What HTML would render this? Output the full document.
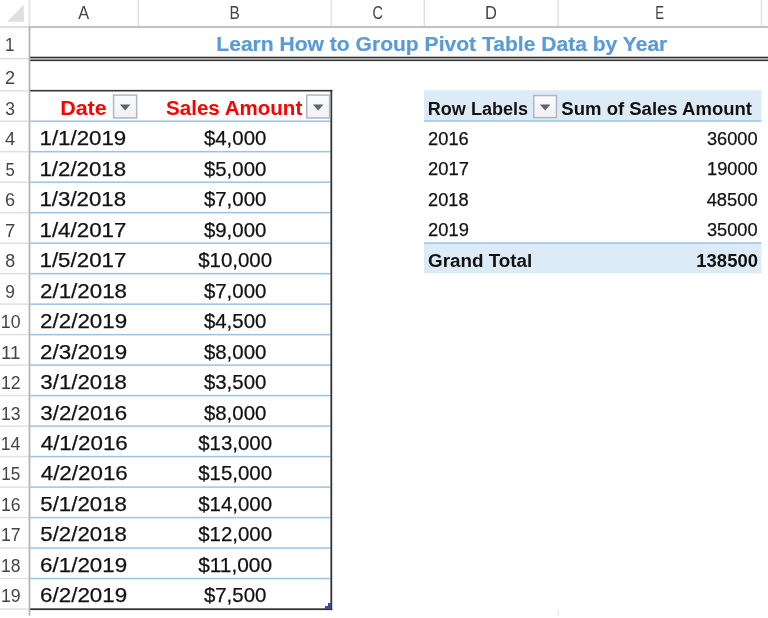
<!DOCTYPE html>
<html><head><meta charset="utf-8"><title>Group Pivot Table Data by Year</title>
<style>
html,body{margin:0;padding:0;background:#fff;overflow:hidden}
svg{display:block;filter:blur(0.4px)}
text{font-family:"Liberation Sans",Arial,sans-serif;white-space:pre}

</style></head><body>
<svg width="768" height="618" viewBox="0 0 768 618">
<defs><linearGradient id="ddg" x1="0" y1="0" x2="0" y2="1"><stop offset="0" stop-color="#fbfcfe"/><stop offset="1" stop-color="#eef1f6"/></linearGradient></defs>
<rect width="768" height="618" fill="#ffffff"/>
<polygon points="7.2,21.7 23.8,4.5 23.8,21.7" fill="#dfdfdf"/>
<rect x="137.55" y="0.00" width="1.50" height="26.00" fill="#e0e0e0"/>
<rect x="330.65" y="0.00" width="1.50" height="26.00" fill="#e0e0e0"/>
<rect x="423.55" y="0.00" width="1.50" height="26.00" fill="#e0e0e0"/>
<rect x="557.35" y="0.00" width="1.50" height="26.00" fill="#e0e0e0"/>
<rect x="760.75" y="0.00" width="1.50" height="26.00" fill="#e0e0e0"/>
<rect x="28.60" y="0.00" width="1.80" height="26.20" fill="#e0e0e0"/>
<rect x="0.00" y="26.10" width="28.60" height="1.80" fill="#dadada"/>
<rect x="28.60" y="26.10" width="739.40" height="1.80" fill="#bcbcbc"/>
<rect x="0.00" y="57.85" width="28.60" height="1.50" fill="#e0e0e0"/>
<rect x="0.00" y="90.15" width="28.60" height="1.50" fill="#e0e0e0"/>
<rect x="0.00" y="120.45" width="28.60" height="1.50" fill="#e0e0e0"/>
<rect x="0.00" y="150.94" width="28.60" height="1.50" fill="#e0e0e0"/>
<rect x="0.00" y="181.43" width="28.60" height="1.50" fill="#e0e0e0"/>
<rect x="0.00" y="211.92" width="28.60" height="1.50" fill="#e0e0e0"/>
<rect x="0.00" y="242.41" width="28.60" height="1.50" fill="#e0e0e0"/>
<rect x="0.00" y="272.90" width="28.60" height="1.50" fill="#e0e0e0"/>
<rect x="0.00" y="303.39" width="28.60" height="1.50" fill="#e0e0e0"/>
<rect x="0.00" y="333.88" width="28.60" height="1.50" fill="#e0e0e0"/>
<rect x="0.00" y="364.37" width="28.60" height="1.50" fill="#e0e0e0"/>
<rect x="0.00" y="394.86" width="28.60" height="1.50" fill="#e0e0e0"/>
<rect x="0.00" y="425.35" width="28.60" height="1.50" fill="#e0e0e0"/>
<rect x="0.00" y="455.84" width="28.60" height="1.50" fill="#e0e0e0"/>
<rect x="0.00" y="486.33" width="28.60" height="1.50" fill="#e0e0e0"/>
<rect x="0.00" y="516.82" width="28.60" height="1.50" fill="#e0e0e0"/>
<rect x="0.00" y="547.31" width="28.60" height="1.50" fill="#e0e0e0"/>
<rect x="0.00" y="577.80" width="28.60" height="1.50" fill="#e0e0e0"/>
<rect x="0.00" y="608.29" width="28.60" height="1.50" fill="#e0e0e0"/>
<rect x="28.60" y="27.00" width="1.80" height="588.70" fill="#b4b4b4"/>
<text x="78.34" y="18.60" font-size="18.50" fill="#444444" textLength="10.92" lengthAdjust="spacingAndGlyphs">A</text>
<text x="229.50" y="18.60" font-size="18.50" fill="#444444" textLength="10.25" lengthAdjust="spacingAndGlyphs">B</text>
<text x="372.55" y="18.60" font-size="18.50" fill="#444444" textLength="10.42" lengthAdjust="spacingAndGlyphs">C</text>
<text x="484.96" y="18.60" font-size="18.50" fill="#444444" textLength="11.91" lengthAdjust="spacingAndGlyphs">D</text>
<text x="655.15" y="18.60" font-size="18.50" fill="#444444" textLength="8.78" lengthAdjust="spacingAndGlyphs">E</text>
<text x="5.12" y="50.80" font-size="18.90" fill="#444444" textLength="9.49" lengthAdjust="spacingAndGlyphs">1</text>
<text x="5.08" y="84.30" font-size="18.90" fill="#444444" textLength="10.04" lengthAdjust="spacingAndGlyphs">2</text>
<text x="5.30" y="114.60" font-size="18.90" fill="#444444" textLength="9.71" lengthAdjust="spacingAndGlyphs">3</text>
<text x="5.04" y="145.09" font-size="18.90" fill="#444444" textLength="10.24" lengthAdjust="spacingAndGlyphs">4</text>
<text x="5.49" y="175.58" font-size="18.90" fill="#444444" textLength="9.25" lengthAdjust="spacingAndGlyphs">5</text>
<text x="4.99" y="206.07" font-size="18.90" fill="#444444" textLength="10.09" lengthAdjust="spacingAndGlyphs">6</text>
<text x="4.97" y="236.56" font-size="18.90" fill="#444444" textLength="10.23" lengthAdjust="spacingAndGlyphs">7</text>
<text x="5.14" y="267.05" font-size="18.90" fill="#444444" textLength="9.91" lengthAdjust="spacingAndGlyphs">8</text>
<text x="5.28" y="297.54" font-size="18.90" fill="#444444" textLength="9.64" lengthAdjust="spacingAndGlyphs">9</text>
<text x="0.87" y="328.03" font-size="18.90" fill="#444444" textLength="19.71" lengthAdjust="spacingAndGlyphs">10</text>
<text x="1.07" y="358.52" font-size="18.90" fill="#444444" textLength="19.48" lengthAdjust="spacingAndGlyphs">11</text>
<text x="1.04" y="389.01" font-size="18.90" fill="#444444" textLength="19.57" lengthAdjust="spacingAndGlyphs">12</text>
<text x="1.00" y="419.50" font-size="18.90" fill="#444444" textLength="19.54" lengthAdjust="spacingAndGlyphs">13</text>
<text x="0.78" y="449.99" font-size="18.90" fill="#444444" textLength="19.72" lengthAdjust="spacingAndGlyphs">14</text>
<text x="1.24" y="480.48" font-size="18.90" fill="#444444" textLength="19.04" lengthAdjust="spacingAndGlyphs">15</text>
<text x="0.96" y="510.97" font-size="18.90" fill="#444444" textLength="19.61" lengthAdjust="spacingAndGlyphs">16</text>
<text x="0.92" y="541.46" font-size="18.90" fill="#444444" textLength="19.79" lengthAdjust="spacingAndGlyphs">17</text>
<text x="1.02" y="571.95" font-size="18.90" fill="#444444" textLength="19.48" lengthAdjust="spacingAndGlyphs">18</text>
<text x="0.95" y="602.44" font-size="18.90" fill="#444444" textLength="19.69" lengthAdjust="spacingAndGlyphs">19</text>
<rect x="30.20" y="56.70" width="738.00" height="1.40" fill="#333333"/>
<rect x="30.20" y="58.10" width="738.00" height="1.60" fill="#aaaaaa"/>
<rect x="30.20" y="59.70" width="738.00" height="1.40" fill="#333333"/>
<text x="216.30" y="50.80" font-size="21.00" font-weight="bold" stroke="#5b9bd5" stroke-width="0.2" fill="#5b9bd5" textLength="451.02" lengthAdjust="spacingAndGlyphs">Learn How to Group Pivot Table Data by Year</text>
<rect x="30.20" y="120.45" width="300.20" height="1.50" fill="#9bc2e6"/>
<rect x="30.20" y="150.94" width="300.20" height="1.50" fill="#9bc2e6"/>
<rect x="30.20" y="181.43" width="300.20" height="1.50" fill="#9bc2e6"/>
<rect x="30.20" y="211.92" width="300.20" height="1.50" fill="#9bc2e6"/>
<rect x="30.20" y="242.41" width="300.20" height="1.50" fill="#9bc2e6"/>
<rect x="30.20" y="272.90" width="300.20" height="1.50" fill="#9bc2e6"/>
<rect x="30.20" y="303.39" width="300.20" height="1.50" fill="#9bc2e6"/>
<rect x="30.20" y="333.88" width="300.20" height="1.50" fill="#9bc2e6"/>
<rect x="30.20" y="364.37" width="300.20" height="1.50" fill="#9bc2e6"/>
<rect x="30.20" y="394.86" width="300.20" height="1.50" fill="#9bc2e6"/>
<rect x="30.20" y="425.35" width="300.20" height="1.50" fill="#9bc2e6"/>
<rect x="30.20" y="455.84" width="300.20" height="1.50" fill="#9bc2e6"/>
<rect x="30.20" y="486.33" width="300.20" height="1.50" fill="#9bc2e6"/>
<rect x="30.20" y="516.82" width="300.20" height="1.50" fill="#9bc2e6"/>
<rect x="30.20" y="547.31" width="300.20" height="1.50" fill="#9bc2e6"/>
<rect x="30.20" y="577.80" width="300.20" height="1.50" fill="#9bc2e6"/>
<rect x="30.20" y="89.90" width="302.20" height="1.60" fill="#333333"/>
<rect x="330.40" y="89.90" width="1.80" height="520.20" fill="#333333"/>
<rect x="30.20" y="608.30" width="302.00" height="1.80" fill="#333333"/>
<path d="M325,609 L325,606 L328,606 L328,603 L331,603 L331,609 Z" fill="#3b4b9b"/>
<text x="60.16" y="114.50" font-size="20.60" font-weight="bold" fill="#ff0000" textLength="46.57" lengthAdjust="spacingAndGlyphs">Date</text>
<rect x="113.55" y="95.05" width="23.10" height="22.90" fill="url(#ddg)" stroke="#b2b6bc" stroke-width="1.5"/>
<polygon points="119.85,104.40 130.35,104.40 125.10,110.40" fill="#636363"/>
<text x="166.11" y="114.50" font-size="20.60" font-weight="bold" fill="#ff0000" textLength="136.14" lengthAdjust="spacingAndGlyphs">Sales Amount</text>
<rect x="306.75" y="95.05" width="22.90" height="22.90" fill="url(#ddg)" stroke="#b2b6bc" stroke-width="1.5"/>
<polygon points="312.95,104.40 323.45,104.40 318.20,110.40" fill="#636363"/>
<text x="39.50" y="145.09" font-size="21.00" stroke="#111111" stroke-width="0.25" fill="#111111" textLength="86.77" lengthAdjust="spacingAndGlyphs">1/1/2019</text>
<text x="203.90" y="145.09" font-size="21.00" stroke="#111111" stroke-width="0.25" fill="#111111" textLength="62.47" lengthAdjust="spacingAndGlyphs">$4,000</text>
<text x="39.51" y="175.58" font-size="21.00" stroke="#111111" stroke-width="0.25" fill="#111111" textLength="86.54" lengthAdjust="spacingAndGlyphs">1/2/2018</text>
<text x="203.90" y="175.58" font-size="21.00" stroke="#111111" stroke-width="0.25" fill="#111111" textLength="62.47" lengthAdjust="spacingAndGlyphs">$5,000</text>
<text x="39.51" y="206.07" font-size="21.00" stroke="#111111" stroke-width="0.25" fill="#111111" textLength="86.54" lengthAdjust="spacingAndGlyphs">1/3/2018</text>
<text x="203.90" y="206.07" font-size="21.00" stroke="#111111" stroke-width="0.25" fill="#111111" textLength="62.47" lengthAdjust="spacingAndGlyphs">$7,000</text>
<text x="39.50" y="236.56" font-size="21.00" stroke="#111111" stroke-width="0.25" fill="#111111" textLength="86.88" lengthAdjust="spacingAndGlyphs">1/4/2017</text>
<text x="203.90" y="236.56" font-size="21.00" stroke="#111111" stroke-width="0.25" fill="#111111" textLength="62.47" lengthAdjust="spacingAndGlyphs">$9,000</text>
<text x="39.50" y="267.05" font-size="21.00" stroke="#111111" stroke-width="0.25" fill="#111111" textLength="86.88" lengthAdjust="spacingAndGlyphs">1/5/2017</text>
<text x="198.14" y="267.05" font-size="21.00" stroke="#111111" stroke-width="0.25" fill="#111111" textLength="74.00" lengthAdjust="spacingAndGlyphs">$10,000</text>
<text x="40.08" y="297.54" font-size="21.00" stroke="#111111" stroke-width="0.25" fill="#111111" textLength="86.92" lengthAdjust="spacingAndGlyphs">2/1/2018</text>
<text x="203.90" y="297.54" font-size="21.00" stroke="#111111" stroke-width="0.25" fill="#111111" textLength="62.47" lengthAdjust="spacingAndGlyphs">$7,000</text>
<text x="40.07" y="328.03" font-size="21.00" stroke="#111111" stroke-width="0.25" fill="#111111" textLength="87.14" lengthAdjust="spacingAndGlyphs">2/2/2019</text>
<text x="203.90" y="328.03" font-size="21.00" stroke="#111111" stroke-width="0.25" fill="#111111" textLength="62.47" lengthAdjust="spacingAndGlyphs">$4,500</text>
<text x="40.07" y="358.52" font-size="21.00" stroke="#111111" stroke-width="0.25" fill="#111111" textLength="87.14" lengthAdjust="spacingAndGlyphs">2/3/2019</text>
<text x="203.90" y="358.52" font-size="21.00" stroke="#111111" stroke-width="0.25" fill="#111111" textLength="62.47" lengthAdjust="spacingAndGlyphs">$8,000</text>
<text x="40.35" y="389.01" font-size="21.00" stroke="#111111" stroke-width="0.25" fill="#111111" textLength="86.60" lengthAdjust="spacingAndGlyphs">3/1/2018</text>
<text x="203.90" y="389.01" font-size="21.00" stroke="#111111" stroke-width="0.25" fill="#111111" textLength="62.47" lengthAdjust="spacingAndGlyphs">$3,500</text>
<text x="40.35" y="419.50" font-size="21.00" stroke="#111111" stroke-width="0.25" fill="#111111" textLength="86.74" lengthAdjust="spacingAndGlyphs">3/2/2016</text>
<text x="203.90" y="419.50" font-size="21.00" stroke="#111111" stroke-width="0.25" fill="#111111" textLength="62.47" lengthAdjust="spacingAndGlyphs">$8,000</text>
<text x="40.69" y="449.99" font-size="21.00" stroke="#111111" stroke-width="0.25" fill="#111111" textLength="87.08" lengthAdjust="spacingAndGlyphs">4/1/2016</text>
<text x="198.14" y="449.99" font-size="21.00" stroke="#111111" stroke-width="0.25" fill="#111111" textLength="74.00" lengthAdjust="spacingAndGlyphs">$13,000</text>
<text x="40.69" y="480.48" font-size="21.00" stroke="#111111" stroke-width="0.25" fill="#111111" textLength="87.08" lengthAdjust="spacingAndGlyphs">4/2/2016</text>
<text x="198.14" y="480.48" font-size="21.00" stroke="#111111" stroke-width="0.25" fill="#111111" textLength="74.00" lengthAdjust="spacingAndGlyphs">$15,000</text>
<text x="40.31" y="510.97" font-size="21.00" stroke="#111111" stroke-width="0.25" fill="#111111" textLength="86.67" lengthAdjust="spacingAndGlyphs">5/1/2018</text>
<text x="198.14" y="510.97" font-size="21.00" stroke="#111111" stroke-width="0.25" fill="#111111" textLength="74.00" lengthAdjust="spacingAndGlyphs">$14,000</text>
<text x="40.31" y="541.46" font-size="21.00" stroke="#111111" stroke-width="0.25" fill="#111111" textLength="86.67" lengthAdjust="spacingAndGlyphs">5/2/2018</text>
<text x="198.14" y="541.46" font-size="21.00" stroke="#111111" stroke-width="0.25" fill="#111111" textLength="74.00" lengthAdjust="spacingAndGlyphs">$12,000</text>
<text x="40.06" y="571.95" font-size="21.00" stroke="#111111" stroke-width="0.25" fill="#111111" textLength="87.15" lengthAdjust="spacingAndGlyphs">6/1/2019</text>
<text x="198.14" y="571.95" font-size="21.00" stroke="#111111" stroke-width="0.25" fill="#111111" textLength="74.00" lengthAdjust="spacingAndGlyphs">$11,000</text>
<text x="40.06" y="602.44" font-size="21.00" stroke="#111111" stroke-width="0.25" fill="#111111" textLength="87.15" lengthAdjust="spacingAndGlyphs">6/2/2019</text>
<text x="203.90" y="602.44" font-size="21.00" stroke="#111111" stroke-width="0.25" fill="#111111" textLength="62.47" lengthAdjust="spacingAndGlyphs">$7,500</text>
<rect x="424.00" y="90.20" width="337.50" height="30.30" fill="#ddebf7"/>
<rect x="424.00" y="120.20" width="337.50" height="1.50" fill="#9bc2e6"/>
<rect x="424.00" y="243.00" width="337.50" height="30.30" fill="#ddebf7"/>
<rect x="424.00" y="242.30" width="337.50" height="1.50" fill="#9bc2e6"/>
<text x="427.79" y="114.60" font-size="18.70" font-weight="bold" fill="#111111" textLength="100.25" lengthAdjust="spacingAndGlyphs">Row Labels</text>
<rect x="533.75" y="95.55" width="22.70" height="22.10" fill="url(#ddg)" stroke="#b2b6bc" stroke-width="1.5"/>
<polygon points="539.85,104.50 550.35,104.50 545.10,110.50" fill="#636363"/>
<text x="561.37" y="114.60" font-size="18.70" font-weight="bold" fill="#111111" textLength="190.66" lengthAdjust="spacingAndGlyphs">Sum of Sales Amount</text>
<text x="428.08" y="144.99" font-size="19.20" stroke="#111111" stroke-width="0.25" fill="#111111" textLength="40.68" lengthAdjust="spacingAndGlyphs">2016</text>
<text x="706.97" y="144.99" font-size="19.20" stroke="#111111" stroke-width="0.25" fill="#111111" textLength="50.64" lengthAdjust="spacingAndGlyphs">36000</text>
<text x="428.08" y="175.48" font-size="19.20" stroke="#111111" stroke-width="0.25" fill="#111111" textLength="40.85" lengthAdjust="spacingAndGlyphs">2017</text>
<text x="707.08" y="175.48" font-size="19.20" stroke="#111111" stroke-width="0.25" fill="#111111" textLength="50.53" lengthAdjust="spacingAndGlyphs">19000</text>
<text x="428.08" y="205.97" font-size="19.20" stroke="#111111" stroke-width="0.25" fill="#111111" textLength="40.56" lengthAdjust="spacingAndGlyphs">2018</text>
<text x="706.66" y="205.97" font-size="19.20" stroke="#111111" stroke-width="0.25" fill="#111111" textLength="50.96" lengthAdjust="spacingAndGlyphs">48500</text>
<text x="428.08" y="236.46" font-size="19.20" stroke="#111111" stroke-width="0.25" fill="#111111" textLength="40.75" lengthAdjust="spacingAndGlyphs">2019</text>
<text x="706.97" y="236.46" font-size="19.20" stroke="#111111" stroke-width="0.25" fill="#111111" textLength="50.64" lengthAdjust="spacingAndGlyphs">35000</text>
<text x="428.14" y="267.20" font-size="18.70" font-weight="bold" fill="#111111" textLength="104.18" lengthAdjust="spacingAndGlyphs">Grand Total</text>
<text x="696.34" y="267.20" font-size="18.70" font-weight="bold" fill="#111111" textLength="61.62" lengthAdjust="spacingAndGlyphs">138500</text>
<rect x="557.60" y="610.20" width="1.20" height="5.80" fill="#e4e4e4"/>
</svg>
</body></html>
